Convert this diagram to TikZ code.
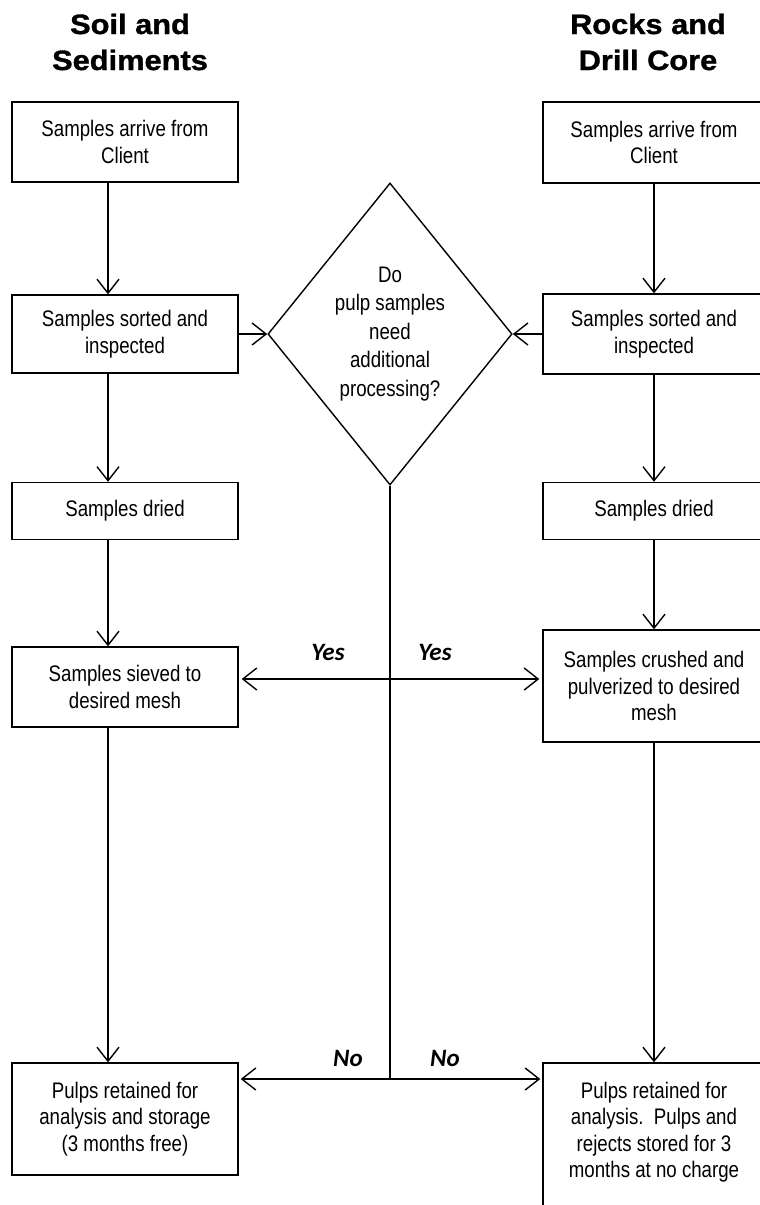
\documentclass[tikz,border=0pt]{standalone}
\usepackage{fontspec}
\setmainfont{Liberation Sans}[FakeStretch=0.83]
\newfontfamily\headfont{Liberation Sans}[FakeStretch=1.1,FakeBold=1.2]
\newfontfamily\answerfont{Carlito}
\usetikzlibrary{arrows.meta,shapes.geometric}

\begin{document}
\begin{tikzpicture}[x=1pt,y=-1pt,
		box/.style={draw, line width=1.4pt, align=center, inner sep=0pt, font=\fontsize{22.5}{26.5}\selectfont},
		flow/.style={line width=1.4pt, -{Straight Barb[length=14pt,width=22pt,line width=1.4pt]}},
		answer/.style={font=\answerfont\bfseries\itshape\fontsize{25}{30}\selectfont},
		head/.style={align=center, font=\headfont\bfseries\fontsize{28}{36}\selectfont}]
		%%%%% START %%%%%
		
		\useasboundingbox (0,0) rectangle (760,1205);
		
		\node[head] (soilHead) at (130,42) {Soil and\\Sediments};
		\node[head] (rockHead) at (648,42) {Rocks and\\Drill Core};
		
		\coordinate (lcol) at (108,0);
		\coordinate (rcol) at (654,0);
		\coordinate (yes) at (390,679);
		\coordinate (no) at (390,1079);
		
		% soil and sediments
		\node[box, minimum width=226pt, minimum height=80pt] (soilArrive) at (125,142) {Samples arrive from\\Client};
		\node[box, minimum width=226pt, minimum height=78pt] (soilSort) at (125,334) {Samples sorted and\\inspected};
		\node[box, minimum width=226pt, minimum height=57pt] (soilDry) at (125,511) {Samples dried};
		\node[box, minimum width=226pt, minimum height=80pt] (soilSieve) at (125,687) {Samples sieved to\\desired mesh};
		\node[box, minimum width=226pt, minimum height=112pt] (soilPulp) at (125,1119) {Pulps retained for\\analysis and storage\\(3 months free)};
		
		% rocks and drill core
		\node[box, minimum width=222pt, minimum height=81pt] (rockArrive) at (654,142.5) {Samples arrive from\\Client};
		\node[box, minimum width=222pt, minimum height=80pt] (rockSort) at (654,334) {Samples sorted and\\inspected};
		\node[box, minimum width=222pt, minimum height=57pt] (rockDry) at (654,511) {Samples dried};
		\node[box, minimum width=222pt, minimum height=112pt] (rockCrush) at (654,686) {Samples crushed and\\pulverized to desired\\mesh};
		\node[box, minimum width=222pt, minimum height=152pt, text depth=18pt] (rockPulp) at (654,1139) {Pulps retained for\\analysis.\ \ Pulps and\\rejects stored for 3\\months at no charge};
		
		% decision
		\node[draw, diamond, line width=1.4pt, minimum width=241pt, minimum height=302pt, inner sep=0pt, align=center, font=\fontsize{22.5}{28.5}\selectfont] (check) at (390,334) {Do\\pulp samples\\need\\additional\\processing?};
		
		\draw[flow] (soilArrive.south -| lcol) -- (soilSort.north -| lcol);
		\draw[flow] (soilSort.south -| lcol) -- (soilDry.north -| lcol);
		\draw[flow] (soilDry.south -| lcol) -- (soilSieve.north -| lcol);
		\draw[flow] (soilSieve.south -| lcol) -- (soilPulp.north -| lcol);
		
		\draw[flow] (rockArrive.south -| rcol) -- (rockSort.north -| rcol);
		\draw[flow] (rockSort.south -| rcol) -- (rockDry.north -| rcol);
		\draw[flow] (rockDry.south -| rcol) -- (rockCrush.north -| rcol);
		\draw[flow] (rockCrush.south -| rcol) -- (rockPulp.north -| rcol);
		
		\draw[flow] (soilSort.east) -- (check.west);
		\draw[flow] (rockSort.west) -- (check.east);
		
		\draw[line width=1.4pt] (check.south) -- (no);
		\draw[flow, shorten >=3pt] (yes) -- (soilSieve.east |- yes);
		\draw[flow, shorten >=3pt] (yes) -- (rockCrush.west |- yes);
		\draw[flow, shorten >=2pt] (no) -- (soilPulp.east |- no);
		\draw[flow, shorten >=2pt] (no) -- (rockPulp.west |- no);
		
		\node[answer] (yesLeft) at (328,652) {Yes};
		\node[answer] (yesRight) at (435,652) {Yes};
		\node[answer] (noLeft) at (348,1058) {No};
		\node[answer] (noRight) at (445,1058) {No};
		
		%%%%% END %%%%%
\end{tikzpicture}
\end{document}
